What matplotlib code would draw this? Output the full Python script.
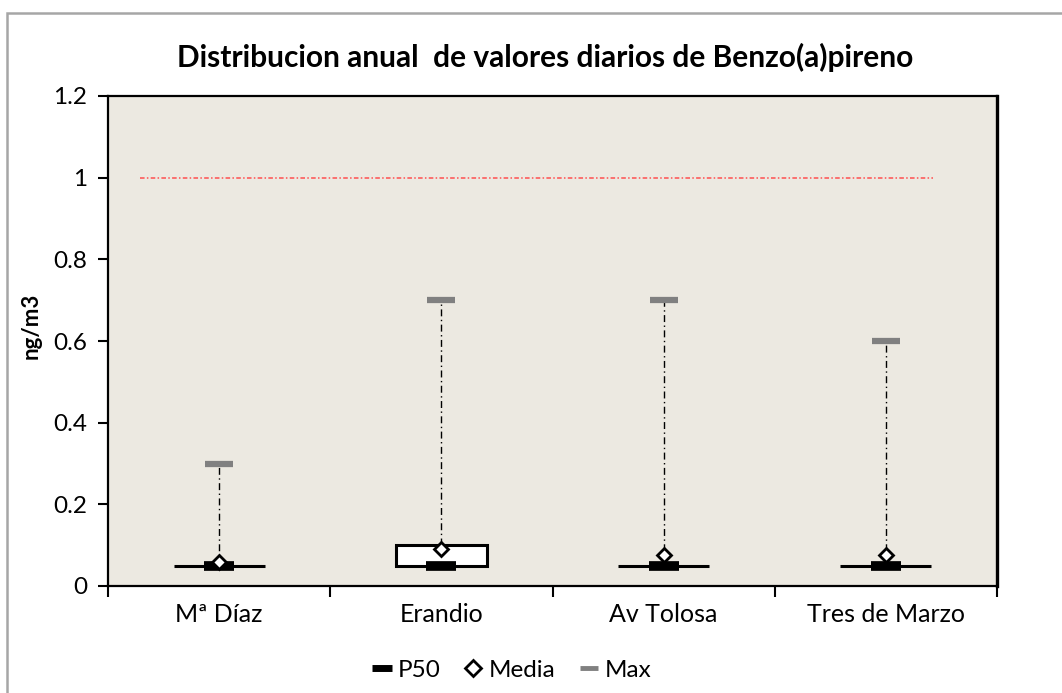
import matplotlib
matplotlib.use("Agg")
import matplotlib.pyplot as plt
from matplotlib.lines import Line2D
from matplotlib.patches import Rectangle
from matplotlib.ticker import FuncFormatter

plt.rcParams['font.family'] = ['Lato', 'DejaVu Sans']

categories = ["Mª Díaz", "Erandio", "Av Tolosa", "Tres de Marzo"]
p25 = [0.05, 0.05, 0.05, 0.05]
p50 = [0.05, 0.05, 0.05, 0.05]
p75 = [0.05, 0.10, 0.05, 0.05]
media = [0.06, 0.09, 0.075, 0.075]
maxv = [0.30, 0.70, 0.70, 0.60]
limit_value = 1.0

W, H = 1062, 693
fig = plt.figure(figsize=(W / 100, H / 100), dpi=100)
fig.patch.set_facecolor("white")

# outer chart border
fig.patches.append(Rectangle((7 / W, 0 - 0.05), 1.1, 1 - 13 / H + 0.05, transform=fig.transFigure,
                             fill=False, edgecolor="#A6A6A6", linewidth=1.8, clip_on=False))

ax = fig.add_axes([108 / W, 1 - 586 / H, (997 - 108) / W, (586 - 96) / H])
ax.set_facecolor("#ECE9E1")

x = list(range(len(categories)))
bw = 0.41
for i in x:
    # whisker
    ax.plot([i, i], [p75[i], maxv[i]], color="black", lw=1.0, ls=(0, (5, 2.5, 1, 2.5)), zorder=2)
    # box
    ax.add_patch(Rectangle((i - bw / 2, p25[i]), bw, max(p75[i] - p25[i], 0), facecolor="white",
                           edgecolor="black", lw=2.2, zorder=3))

# limit line
ax.plot([-0.356, 3.212], [limit_value, limit_value], color="#FF5050", lw=1.1, ls=(0, (3, 1.5, 1, 1.5)), zorder=2)

ax.plot(x, p50, ls="none", marker="_", markersize=21, markeredgewidth=7, color="black", zorder=4)
ax.plot(x, maxv, ls="none", marker="_", markersize=20, markeredgewidth=4.5, color="#808080", zorder=4)
ax.plot(x, media, ls="none", marker="D", markersize=7, markerfacecolor="white",
        markeredgecolor="black", markeredgewidth=2, zorder=5)

ax.set_xlim(-0.5, 3.5)
ax.set_ylim(0, 1.2)
ax.set_yticks([0, 0.2, 0.4, 0.6, 0.8, 1.0, 1.2])
ax.yaxis.set_major_formatter(FuncFormatter(lambda v, p: "0" if v == 0 else ("1" if v == 1 else "%g" % v)))
ax.set_xticks([-0.5, 0.5, 1.5, 2.5, 3.5])
ax.set_xticklabels([])
ax.set_xticks(x, minor=True)
ax.set_xticklabels(categories, minor=True, fontsize=18)
ax.tick_params(axis="x", which="minor", length=0, pad=12)
ax.tick_params(axis="x", which="major", length=8, width=1.5, direction="out")
ax.tick_params(axis="y", length=7, width=1.5, direction="out", labelsize=17.5, pad=8)
for s in ax.spines.values():
    s.set_linewidth(1.6)
    s.set_color("black")
ax.spines["right"].set_linewidth(2.4)

ax.set_ylabel("ng/m3", fontsize=16, fontweight="bold", labelpad=4)
ax.yaxis.set_label_coords(-0.075, 0.53)
fig.text(545 / W, 1 - 57 / H, "Distribucion anual  de valores diarios de Benzo(a)pireno",
         ha="center", va="center", fontsize=21.5, fontweight="bold")

handles = [
    Line2D([], [], ls="none", marker="_", markersize=15, markeredgewidth=5, color="black"),
    Line2D([], [], ls="none", marker="D", markersize=8, markerfacecolor="white",
           markeredgecolor="black", markeredgewidth=2),
    Line2D([], [], ls="none", marker="_", markersize=13, markeredgewidth=3.5, color="#808080"),
]
fig.legend(handles, ["P50", "Media", "Max"], loc="center", bbox_to_anchor=(511 / W, 1 - 670 / H),
           ncol=3, frameon=False, fontsize=17.5, handlelength=0.9, handletextpad=0.2, columnspacing=0.9)

fig.savefig("out.png", dpi=100)
